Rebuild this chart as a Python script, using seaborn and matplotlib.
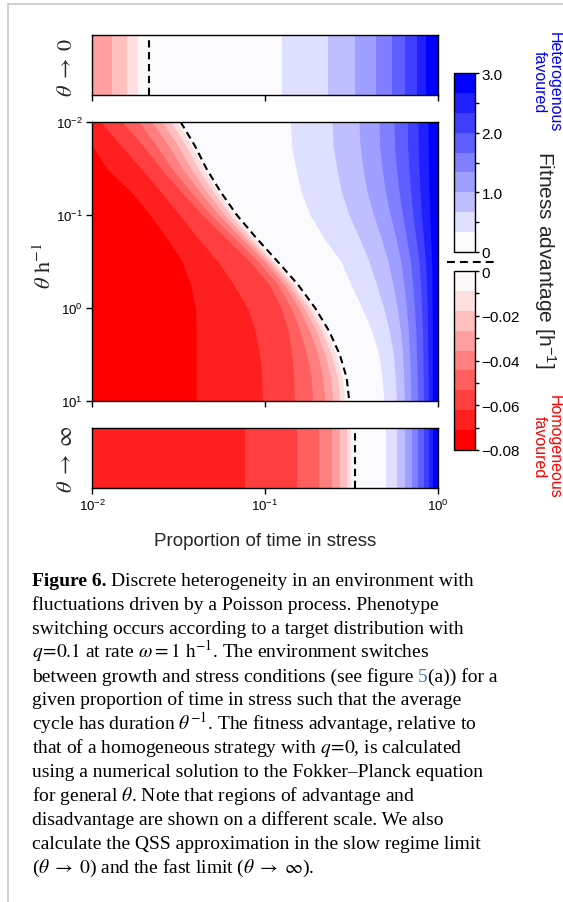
import numpy as np
import pandas as pd
import matplotlib
matplotlib.use("Agg")
import matplotlib.pyplot as plt
import seaborn as sns
from matplotlib.colors import ListedColormap, Normalize
from matplotlib.cm import ScalarMappable
from matplotlib.lines import Line2D
from matplotlib.ticker import NullLocator

# ---------------------------------------------------------------- data
# log10 of the cycle rate theta [h^-1] at which contour edges are tabulated
log_theta = [-2.0, -1.75, -1.5, -1.25, -1.0, -0.75, -0.5, -0.25,
             0.0, 0.25, 0.5, 0.75, 1.0]

# contour levels of the fitness advantage [h^-1]
adv_levels = [0.0, 0.333, 0.667, 1.0, 1.333, 1.667, 2.0, 2.333, 2.667, 3.0]
dis_levels = [-0.08, -0.0711, -0.0622, -0.0533, -0.0444, -0.0356,
              -0.0267, -0.0178, -0.0089, 0.0]

# log10(proportion of time in stress) where the advantage is zero
zero_edge = [-1.488, -1.407, -1.339, -1.257, -1.163, -1.049, -0.927,
             -0.809, -0.710, -0.629, -0.568, -0.528, -0.513]

# edges of the disadvantage bands (levels -0.0089 ... -0.0711)
dis_edges = [
    [-1.508, -1.426, -1.357, -1.274, -1.179, -1.065, -0.943, -0.825, -0.728, -0.650, -0.591, -0.553, -0.539],
    [-1.543, -1.459, -1.387, -1.300, -1.202, -1.085, -0.960, -0.843, -0.748, -0.672, -0.617, -0.581, -0.568],
    [-1.595, -1.505, -1.429, -1.338, -1.234, -1.110, -0.980, -0.864, -0.774, -0.704, -0.654, -0.620, -0.608],
    [-1.653, -1.560, -1.478, -1.378, -1.267, -1.136, -1.003, -0.889, -0.805, -0.742, -0.695, -0.666, -0.655],
    [-1.728, -1.630, -1.538, -1.430, -1.313, -1.176, -1.041, -0.925, -0.849, -0.797, -0.759, -0.733, -0.724],
    [-1.826, -1.708, -1.602, -1.485, -1.362, -1.225, -1.089, -0.974, -0.907, -0.866, -0.845, -0.834, -0.831],
    [-1.948, -1.835, -1.716, -1.602, -1.494, -1.387, -1.272, -1.181, -1.101, -1.056, -1.032, -1.018, -1.016],
    [-2.000, -2.000, -1.916, -1.775, -1.665, -1.566, -1.480, -1.431, -1.402, -1.399, -1.399, -1.399, -1.399],
]

# edges of the advantage bands (levels 0.333 ... 2.667)
adv_edges = [
    [-0.853, -0.847, -0.821, -0.792, -0.740, -0.659, -0.561, -0.503, -0.439, -0.382, -0.341, -0.324, -0.312],
    [-0.611, -0.607, -0.585, -0.559, -0.514, -0.455, -0.399, -0.355, -0.314, -0.281, -0.258, -0.247, -0.240],
    [-0.457, -0.451, -0.434, -0.410, -0.373, -0.328, -0.289, -0.260, -0.236, -0.217, -0.204, -0.198, -0.194],
    [-0.341, -0.338, -0.323, -0.304, -0.276, -0.243, -0.215, -0.197, -0.182, -0.171, -0.164, -0.159, -0.156],
    [-0.254, -0.251, -0.240, -0.225, -0.205, -0.182, -0.159, -0.146, -0.136, -0.128, -0.124, -0.120, -0.118],
    [-0.177, -0.176, -0.168, -0.158, -0.145, -0.128, -0.110, -0.101, -0.095, -0.090, -0.087, -0.085, -0.084],
    [-0.116, -0.114, -0.110, -0.104, -0.095, -0.084, -0.072, -0.066, -0.062, -0.060, -0.058, -0.057, -0.056],
    [-0.058, -0.057, -0.055, -0.052, -0.047, -0.042, -0.037, -0.035, -0.034, -0.032, -0.032, -0.032, -0.032],
]

# QSS slow limit (theta -> 0): band edges along the stress proportion
slow_zero = -1.671
slow_dis = [-1.732, -1.799, -1.886]
slow_adv = [-0.903, -0.634, -0.480, -0.358, -0.268, -0.191, -0.123, -0.069]

# fast limit (theta -> infinity)
fast_zero = -0.480
fast_dis = [-0.505, -0.528, -0.566, -0.614, -0.688, -0.817, -1.116]
fast_adv = [-0.301, -0.239, -0.191, -0.149, -0.114, -0.081, -0.052, -0.027]

x_ticks = [1e-2, 1e-1, 1e0]
theta_ticks = [1e-2, 1e-1, 1e0, 1e1]

caption = [
    [("Figure 6.", "bold"), ("Discrete heterogeneity in an environment with", "plain")],
    [("fluctuations driven by a Poisson process. Phenotype", "plain")],
    [("switching occurs according to a target distribution with", "plain")],
    [(r"$q\!=\!0.1$ at rate $\omega = 1\ \mathrm{h}^{-1}$. The environment switches", "plain")],
    [("between growth and stress conditions (see figure", "plain"), ("5", "link"), ("(a)) for a", "glued")],
    [("given proportion of time in stress such that the average", "plain")],
    [(r"cycle has duration $\theta^{-1}$. The fitness advantage, relative to", "plain")],
    [(r"that of a homogeneous strategy with $q\!=\!0$, is calculated", "plain")],
    [("using a numerical solution to the Fokker\u2013Planck equation", "plain")],
    [(r"for general $\theta$. Note that regions of advantage and", "plain")],
    [("disadvantage are shown on a different scale. We also", "plain")],
    [("calculate the QSS approximation in the slow regime limit", "plain")],
    [(r"($\theta\;\rightarrow\;0$) and the fast limit ($\theta\;\rightarrow\;\infty$).", "plain")],
]

# ---------------------------------------------------------------- style
sns.set_theme(style="ticks")
plt.rcParams.update({
    "font.family": ["Liberation Sans", "DejaVu Sans"],
    "mathtext.fontset": "stix",
    "axes.linewidth": 1.0,
    "axes.edgecolor": "black",
    "xtick.color": "black", "ytick.color": "black",
    "xtick.direction": "out", "ytick.direction": "out",
    "xtick.major.size": 4.5, "ytick.major.size": 4.5,
    "xtick.major.width": 1.0, "ytick.major.width": 1.0,
    "xtick.major.pad": 2.5, "ytick.major.pad": 2.0,
    "xtick.labelsize": 9.5, "ytick.labelsize": 9.5,
    "figure.facecolor": "white",
})

adv_colors = sns.blend_palette(["#ffffff", "#0000ff"], 9)
dis_colors = sns.blend_palette(["#ffffff", "#ff0000"], 9)
adv_colors[0] = (0.984, 0.980, 0.992)
dis_colors[0] = (0.992, 0.973, 0.976)

W, H = 563, 903
fig = plt.figure(figsize=(W / 100, H / 100), dpi=100)


def rect(x0, y0, x1, y1):
    return [x0 / W, 1 - y1 / H, (x1 - x0) / W, (y1 - y0) / H]


ax_slow = fig.add_axes(rect(92, 36, 438, 96))
ax_main = fig.add_axes(rect(92, 123, 438, 402))
ax_fast = fig.add_axes(rect(92, 429, 438, 489))
cax_adv = fig.add_axes(rect(454, 74, 475, 253))
cax_dis = fig.add_axes(rect(454, 272, 475, 451))

DASH = (0, (3.5, 2.2))
x_lo, x_hi = 1e-2, 1e0

# ---------------------------------------------------------------- main panel
theta = 10.0 ** np.asarray(log_theta)
ax_main.set_xscale("log")
ax_main.set_yscale("log")
ax_main.fill_betweenx(theta, x_lo, x_hi, color=adv_colors[8], lw=0)
for k in range(8, 0, -1):
    ax_main.fill_betweenx(theta, x_lo, 10.0 ** np.asarray(adv_edges[k - 1]),
                          color=adv_colors[k - 1], lw=0)
ax_main.fill_betweenx(theta, x_lo, 10.0 ** np.asarray(zero_edge),
                      color=dis_colors[0], lw=0)
for k in range(1, 9):
    ax_main.fill_betweenx(theta, x_lo, 10.0 ** np.asarray(dis_edges[k - 1]),
                          color=dis_colors[k], lw=0)

zero_df = pd.DataFrame({"stress": 10.0 ** np.asarray(zero_edge), "theta": theta})
sns.lineplot(data=zero_df, x="stress", y="theta", ax=ax_main, sort=False,
             estimator=None, orient="y", color="black", lw=1.5, linestyle=DASH)

ax_main.set_xlim(x_lo, x_hi)
ax_main.set_ylim(1e1, 1e-2)
ax_main.set_xticks(x_ticks)
ax_main.set_yticks(theta_ticks)
ax_main.xaxis.set_minor_locator(NullLocator())
ax_main.yaxis.set_minor_locator(NullLocator())
ax_main.tick_params(axis="x", labelbottom=False)
ax_main.set_xlabel("")
ax_main.set_ylabel("")


# ---------------------------------------------------------------- limit strips
def limit_strip(ax, zero, dis, adv, labels):
    ax.set_xscale("log")
    ax.axvspan(x_lo, x_hi, color=adv_colors[8], lw=0)
    for k in range(8, 0, -1):
        ax.axvspan(x_lo, 10.0 ** adv[k - 1], color=adv_colors[k - 1], lw=0)
    ax.axvspan(x_lo, 10.0 ** zero, color=dis_colors[0], lw=0)
    for k, e in enumerate(dis, start=1):
        ax.axvspan(x_lo, 10.0 ** e, color=dis_colors[k], lw=0)
    ax.axvline(10.0 ** zero, color="black", lw=1.5, linestyle=DASH)
    ax.set_xlim(x_lo, x_hi)
    ax.set_ylim(0, 1)
    ax.set_yticks([])
    ax.set_xticks(x_ticks)
    ax.xaxis.set_minor_locator(NullLocator())
    ax.tick_params(axis="x", labelbottom=labels)


limit_strip(ax_slow, slow_zero, slow_dis, slow_adv, False)
limit_strip(ax_fast, fast_zero, fast_dis, fast_adv, True)

# ---------------------------------------------------------------- colour bars
cb_adv = fig.colorbar(ScalarMappable(norm=Normalize(adv_levels[0], adv_levels[-1]),
                                     cmap=ListedColormap(adv_colors)), cax=cax_adv)
cb_adv.set_ticks([0, 1, 2, 3], labels=["0", "1.0", "2.0", "3.0"])
cb_adv.set_ticks([0.5, 1.5, 2.5], minor=True)

cb_dis = fig.colorbar(ScalarMappable(norm=Normalize(dis_levels[0], dis_levels[-1]),
                                     cmap=ListedColormap(dis_colors[::-1])), cax=cax_dis)
cb_dis.set_ticks([-0.08, -0.06, -0.04, -0.02, 0.0],
                 labels=["\u22120.08", "\u22120.06", "\u22120.04", "\u22120.02", "0"])
cb_dis.set_ticks([-0.07, -0.05, -0.03, -0.01], minor=True)

for cb in (cb_adv, cb_dis):
    cb.outline.set_linewidth(1.0)
    cb.ax.tick_params(which="both", length=3.2, width=1.0, labelsize=11, pad=1.5)

fig.add_artist(Line2D([447 / W, 495 / W], [1 - 263 / H] * 2, color="black",
                      lw=1.5, linestyle=(0, (3.8, 2.4))))

# ---------------------------------------------------------------- labels
fig.text(66 / W, 1 - 67 / H, r"$\theta\;\rightarrow\;0$", rotation=90,
         ha="center", va="center", fontsize=16)
fig.text(66 / W, 1 - 459 / H, r"$\theta\;\rightarrow\;\infty$", rotation=90,
         ha="center", va="center", fontsize=16)
fig.text(45 / W, 1 - 266 / H, r"$\theta\ \mathrm{h}^{-1}$", rotation=90,
         ha="center", va="center", fontsize=16)
fig.text(265 / W, 1 - 546.5 / H, "Proportion of time in stress",
         ha="center", va="baseline", fontsize=13.5)
fig.text(545 / W, 1 - 260 / H, r"Fitness advantage [h$^{\mathdefault{-1}}$]",
         rotation=-90, ha="center", va="center", fontsize=15)
fig.text(547 / W, 1 - 82 / H, "Heterogenous\nfavoured", rotation=-90,
         ha="center", va="center", multialignment="center", linespacing=1.0,
         fontsize=11.5, color="#0000ff")
fig.text(547 / W, 1 - 447 / H, "Homogeneous\nfavoured", rotation=-90,
         ha="center", va="center", multialignment="center", linespacing=1.0,
         fontsize=11.5, color="#ff0000")

# ---------------------------------------------------------------- caption
renderer = fig.canvas.get_renderer()
cap_size = 14
space_px = 0.25 * cap_size * 100 / 72
styles = {
    "plain": dict(color="black"),
    "bold": dict(color="black", fontweight="bold"),
    "link": dict(color="#3a7fc1"),
    "glued": dict(color="black"),
}
for i, line in enumerate(caption):
    y = 1 - (586 + 23.9 * i) / H
    x_px = 32.0
    for j, (text, kind) in enumerate(line):
        if j > 0 and kind != "glued":
            x_px += space_px
        t = fig.text(x_px / W, y, text, ha="left", va="baseline", fontsize=cap_size,
                     family=["Liberation Serif", "DejaVu Serif"], **styles[kind])
        x_px = t.get_window_extent(renderer).x1

# page frame
fig.add_artist(Line2D([8 / W, 8 / W], [0, 1 - 5 / H], color="#c8c8c8", lw=1.2))
fig.add_artist(Line2D([8 / W, 1], [1 - 5 / H] * 2, color="#c8c8c8", lw=1.2))

fig.savefig("out.png", dpi=100)
